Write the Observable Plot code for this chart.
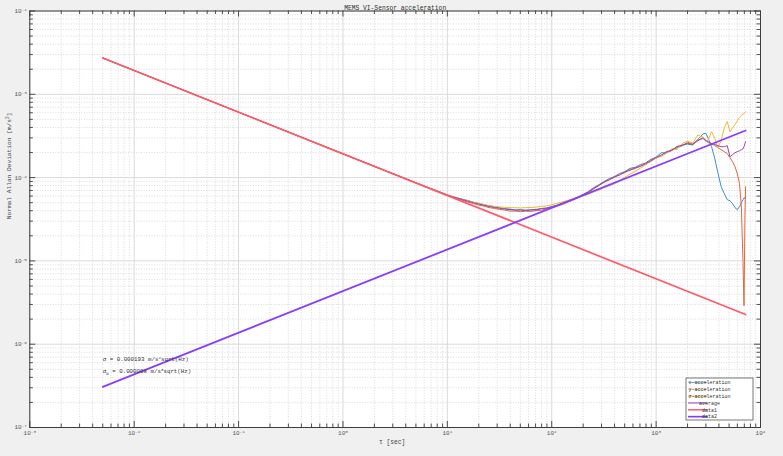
<!DOCTYPE html>
<html><head><meta charset="utf-8">
<script src="https://cdn.jsdelivr.net/npm/d3@7"></script>
<script src="https://cdn.jsdelivr.net/npm/@observablehq/plot@0.6"></script>
<style>
html,body{margin:0;padding:0;background:#f0f0f0;}
#chart{width:783px;height:456px;overflow:hidden;}
</style></head><body><div id="chart"></div>
<script>
// ---- data ----
const tau = [0.005, 0.01, 0.02, 0.05, 0.1, 0.2, 0.5, 1, 2, 4, 6,
  8, 9, 10, 11.2, 12.6, 14.1, 15.8, 17.8, 20, 22.4, 25.1, 28.2, 31.6, 35.5, 39.8, 44.7, 50.1, 56.2, 63.1, 70.8, 79.4, 89.1,
  100, 112, 126, 141, 158, 178, 200, 224, 251, 282, 316, 355, 398, 447, 501, 562, 631, 708, 794, 891,
  1000, 1122, 1259, 1413, 1585, 1778, 1995, 2239, 2512, 2818,
  3000, 3162, 3400, 3650, 3900, 4200, 4500, 4800, 5100, 5400, 5700, 6000, 6300, 6550, 6800, 6950, 7100, 7200];

const xAcc = [2.73e-3, 1.93e-3, 1.366e-3, 8.64e-4, 6.11e-4, 4.32e-4, 2.73e-4, 1.93e-4, 1.366e-4, 9.68e-5, 7.92e-5,
  6.92e-5, 6.53e-5, 6.22e-5, 5.95e-5, 5.70e-5, 5.50e-5, 5.30e-5, 5.06e-5, 4.90e-5, 4.72e-5, 4.58e-5, 4.43e-5, 4.35e-5, 4.24e-5, 4.18e-5, 4.10e-5, 4.12e-5, 4.07e-5, 4.12e-5, 4.15e-5, 4.26e-5, 4.33e-5,
  4.50e-5, 4.66e-5, 4.95e-5, 5.18e-5, 5.52e-5, 5.85e-5, 6.30e-5, 6.80e-5, 7.55e-5, 8.20e-5, 8.95e-5, 9.70e-5, 1.03e-4, 1.12e-4, 1.18e-4, 1.29e-4, 1.33e-4, 1.43e-4, 1.50e-4, 1.66e-4,
  1.76e-4, 1.99e-4, 1.98e-4, 2.13e-4, 2.26e-4, 2.44e-4, 2.52e-4, 2.46e-4, 2.88e-4, 3.35e-4,
  3.40e-4, 2.94e-4, 2.35e-4, 1.69e-4, 1.15e-4, 7.78e-5, 6.41e-5, 5.43e-5, 5.28e-5, 4.86e-5, 4.35e-5, 4.12e-5, 4.47e-5, 4.99e-5, 5.43e-5, 5.73e-5, 5.62e-5, 5.90e-5];

const yAcc = [2.72e-3, 1.93e-3, 1.364e-3, 8.62e-4, 6.10e-4, 4.31e-4, 2.73e-4, 1.93e-4, 1.365e-4, 9.66e-5, 7.89e-5,
  6.88e-5, 6.47e-5, 6.12e-5, 5.82e-5, 5.55e-5, 5.30e-5, 5.08e-5, 4.88e-5, 4.68e-5, 4.55e-5, 4.36e-5, 4.27e-5, 4.14e-5, 4.08e-5, 3.97e-5, 3.96e-5, 3.90e-5, 3.95e-5, 3.92e-5, 4.03e-5, 4.06e-5, 4.21e-5,
  4.33e-5, 4.55e-5, 4.74e-5, 5.05e-5, 5.32e-5, 5.70e-5, 6.10e-5, 6.70e-5, 7.25e-5, 8.10e-5, 8.70e-5, 9.55e-5, 1.00e-4, 1.10e-4, 1.14e-4, 1.26e-4, 1.28e-4, 1.40e-4, 1.44e-4, 1.63e-4,
  1.70e-4, 1.85e-4, 2.06e-4, 2.10e-4, 2.38e-4, 2.40e-4, 2.65e-4, 2.56e-4, 2.75e-4, 3.05e-4,
  2.78e-4, 2.70e-4, 2.56e-4, 2.42e-4, 2.29e-4, 2.16e-4, 2.05e-4, 1.94e-4, 1.735e-4, 1.55e-4, 1.35e-4, 1.11e-4, 8.45e-5, 4.59e-5, 9.5e-6, 2.9e-6, 3.48e-5, 7.78e-5];

const zAcc = [2.73e-3, 1.93e-3, 1.365e-3, 8.63e-4, 6.10e-4, 4.32e-4, 2.73e-4, 1.93e-4, 1.366e-4, 9.67e-5, 7.90e-5,
  6.90e-5, 6.52e-5, 6.20e-5, 5.92e-5, 5.68e-5, 5.45e-5, 5.25e-5, 5.05e-5, 4.90e-5, 4.76e-5, 4.62e-5, 4.52e-5, 4.45e-5, 4.40e-5, 4.36e-5, 4.35e-5, 4.33e-5, 4.36e-5, 4.38e-5, 4.42e-5, 4.52e-5, 4.58e-5,
  4.72e-5, 4.90e-5, 5.10e-5, 5.32e-5, 5.55e-5, 5.80e-5, 6.00e-5, 6.25e-5, 6.70e-5, 7.05e-5, 7.55e-5, 7.95e-5, 8.40e-5, 9.10e-5, 1.01e-4, 1.10e-4, 1.19e-4, 1.30e-4, 1.43e-4, 1.56e-4,
  1.72e-4, 1.80e-4, 1.96e-4, 2.23e-4, 2.18e-4, 2.56e-4, 2.75e-4, 2.60e-4, 3.25e-4, 3.05e-4,
  2.70e-4, 2.85e-4, 3.56e-4, 2.94e-4, 2.29e-4, 2.78e-4, 3.98e-4, 4.70e-4, 3.55e-4, 3.98e-4, 4.32e-4, 4.83e-4, 5.25e-4, 5.55e-4, 5.78e-4, 5.93e-4, 6.02e-4, 6.19e-4];

const avgAcc = [2.73e-3, 1.93e-3, 1.365e-3, 8.63e-4, 6.10e-4, 4.32e-4, 2.73e-4, 1.93e-4, 1.365e-4, 9.67e-5, 7.90e-5,
  6.90e-5, 6.50e-5, 6.17e-5, 5.88e-5, 5.64e-5, 5.41e-5, 5.20e-5, 4.98e-5, 4.80e-5, 4.64e-5, 4.50e-5, 4.37e-5, 4.28e-5, 4.19e-5, 4.13e-5, 4.06e-5, 4.07e-5, 4.03e-5, 4.08e-5, 4.10e-5, 4.22e-5, 4.28e-5,
  4.46e-5, 4.60e-5, 4.88e-5, 5.10e-5, 5.46e-5, 5.75e-5, 6.22e-5, 6.70e-5, 7.40e-5, 8.00e-5, 8.85e-5, 9.35e-5, 1.02e-4, 1.07e-4, 1.17e-4, 1.22e-4, 1.31e-4, 1.36e-4, 1.48e-4, 1.58e-4,
  1.75e-4, 1.87e-4, 2.03e-4, 2.14e-4, 2.34e-4, 2.46e-4, 2.58e-4, 2.50e-4, 2.82e-4, 2.94e-4,
  2.78e-4, 2.63e-4, 2.56e-4, 2.49e-4, 2.42e-4, 2.35e-4, 2.35e-4, 2.42e-4, 1.78e-4, 1.885e-4, 1.99e-4, 2.05e-4, 2.10e-4, 2.16e-4, 2.22e-4, 2.35e-4, 2.56e-4, 2.70e-4];

// fitted lines (end points)
const fitTau = [0.005, 7200];
const data1 = [2.73e-3, 2.27e-6];   // white noise
const data2 = [3.07e-7, 3.68e-4];   // rate random walk

const seriesNames = ["x-acceleration", "y-acceleration", "z-acceleration", "average", "data1", "data2"];

const xTicks = [1e-3, 1e-2, 1e-1, 1e0, 1e1, 1e2, 1e3, 1e4];
const xTickLabels = ["10^{-3}", "10^{-2}", "10^{-1}", "10^{0}", "10^{1}", "10^{2}", "10^{3}", "10^{4}"];
const yTicks = [1e-7, 1e-6, 1e-5, 1e-4, 1e-3, 1e-2];
const yTickLabels = ["10^{-7}", "10^{-6}", "10^{-5}", "10^{-4}", "10^{-3}", "10^{-2}"];
const minorSteps = [2, 3, 4, 5, 6, 7, 8, 9];

const titleText = "MEMS VI-Sensor acceleration";
const xLabel = "τ [sec]";
const yLabel = "Normal Allan Deviation [m/s^{2}]";
const noteTexts = ["σ = 0.000193 m/s^{2}sqrt(Hz)", "σ_{b} = 0.000008 m/s^{3}sqrt(Hz)"];
const noteTau = [0.005, 0.005];
const noteVal = [6.6e-7, 4.75e-7];

// ---- layout & styles ----
const W = 783, H = 456;
const M = {left: 29.3, right: 23, top: 10.5, bottom: 29};
const frameW = W - M.left - M.right, frameH = H - M.top - M.bottom;
const FONT = "Liberation Mono, DejaVu Sans Mono, monospace";
const lineColors = ["#3d8bd3", "#e2673c", "#efb836", "#9c46a8", "#ff5a6a", "#8a3cff"];
const legendColors = ["#9cc6ea", "#f6c4b0", "#e6b43a", "#a844ac", "#ff6272", "#7f3cff"];

const xMinor = xTicks.slice(0, -1).flatMap(d => minorSteps.map(m => d * m));
const yMinor = yTicks.slice(0, -1).flatMap(d => minorSteps.map(m => d * m));

const mk = arr => tau.map((t, i) => ({t, v: arr[i]}));
const fit = arr => fitTau.map((t, i) => ({t, v: arr[i]}));
const notes = noteTexts.map((s, i) => ({s, t: noteTau[i], v: noteVal[i]}));

const axisStroke = "#3c3c3c";
const labFill = "#5a5a5a";
const tk = {stroke: axisStroke, strokeWidth: 0.9};
const MAJ = 6, MIN = 3.5;

const svg = Plot.plot({
  width: W, height: H,
  marginLeft: M.left, marginRight: M.right, marginTop: M.top, marginBottom: M.bottom,
  style: {background: "#f0f0f0", fontFamily: FONT, fontSize: "6px", overflow: "visible"},
  x: {type: "log", domain: [1e-3, 1e4]},
  y: {type: "log", domain: [1e-7, 1e-2]},
  marks: [
    Plot.frame({fill: "white", stroke: null}),
    Plot.ruleX(xMinor, {stroke: "#d2d2d2", strokeDasharray: "1,1.6", strokeWidth: 0.8}),
    Plot.ruleY(yMinor, {stroke: "#d2d2d2", strokeDasharray: "1,1.6", strokeWidth: 0.8}),
    Plot.ruleX(xTicks, {stroke: "#dadada", strokeWidth: 1}),
    Plot.ruleY(yTicks, {stroke: "#dadada", strokeWidth: 1}),
    Plot.line(mk(xAcc), {x: "t", y: "v", stroke: lineColors[0], strokeWidth: 1}),
    Plot.line(mk(yAcc), {x: "t", y: "v", stroke: lineColors[1], strokeWidth: 1}),
    Plot.line(mk(zAcc), {x: "t", y: "v", stroke: lineColors[2], strokeWidth: 1}),
    Plot.line(mk(avgAcc), {x: "t", y: "v", stroke: lineColors[3], strokeWidth: 1}),
    Plot.line(fit(data1), {x: "t", y: "v", stroke: lineColors[4], strokeWidth: 1.7}),
    Plot.line(fit(data2), {x: "t", y: "v", stroke: lineColors[5], strokeWidth: 1.8}),
    Plot.frame({stroke: axisStroke, strokeWidth: 1}),
    // inward ticks on all four sides (short rules)
    Plot.ruleX(xTicks, {...tk, insetTop: frameH - MAJ}),
    Plot.ruleX(xMinor, {...tk, insetTop: frameH - MIN}),
    Plot.ruleX(xTicks, {...tk, insetBottom: frameH - MAJ}),
    Plot.ruleX(xMinor, {...tk, insetBottom: frameH - MIN}),
    Plot.ruleY(yTicks, {...tk, insetRight: frameW - MAJ}),
    Plot.ruleY(yMinor, {...tk, insetRight: frameW - MIN}),
    Plot.ruleY(yTicks, {...tk, insetLeft: frameW - MAJ}),
    Plot.ruleY(yMinor, {...tk, insetLeft: frameW - MIN}),
    // tick labels
    Plot.axisX({anchor: "bottom", ticks: xTicks, tickSize: 0, tickPadding: 3.5, label: null, fill: labFill,
      tickFormat: d => xTickLabels[xTicks.indexOf(d)]}),
    Plot.axisY({anchor: "left", ticks: yTicks, tickSize: 0, tickPadding: 3, label: null, fill: labFill,
      tickFormat: d => yTickLabels[yTicks.indexOf(d)]}),
    // titles
    Plot.text([titleText], {frameAnchor: "top", dy: -5.5, fontSize: 6.3, fill: "#333"}),
    Plot.text([xLabel], {frameAnchor: "bottom", dy: 16, dx: -3, fontSize: 6.3, fill: "#444"}),
    Plot.text([yLabel], {frameAnchor: "left", rotate: -90, dx: -21, fontSize: 6.2, fill: "#444"}),
    Plot.text(notes, {x: "t", y: "v", text: "s", textAnchor: "start", fontSize: 5.8, fill: "#333"})
  ]
});

// rich text: ^{..} superscript, _{..} subscript
function rich(s) {
  return s.replace(/\^\{([^}]*)\}/g, '<tspan baseline-shift="super" font-size="72%">$1</tspan>')
          .replace(/_\{([^}]*)\}/g, '<tspan baseline-shift="sub" font-size="72%">$1</tspan>');
}
svg.querySelectorAll("text").forEach(el => {
  const s = el.textContent;
  if (/[\^_]\{/.test(s)) el.innerHTML = rich(s);
});

// legend (south-east, inside axes)
const lg = d3.select(svg).append("g").attr("font-family", FONT).attr("font-size", 5);
lg.append("rect").attr("x", 686).attr("y", 378).attr("width", 67).attr("height", 42)
  .attr("fill", "white").attr("stroke", "#555").attr("stroke-width", 0.8);
seriesNames.forEach((name, i) => {
  const y = 382.4 + i * 6.85;
  lg.append("line").attr("x1", 688).attr("x2", 707.5).attr("y1", y).attr("y2", y)
    .attr("stroke", legendColors[i]).attr("stroke-width", i >= 4 ? 1.6 : 1.1);
  lg.append("text").attr("x", 709.5).attr("y", y).attr("dy", "0.35em").attr("fill", "#333").text(name);
});

document.getElementById("chart").appendChild(svg);
</script>
</body></html>
